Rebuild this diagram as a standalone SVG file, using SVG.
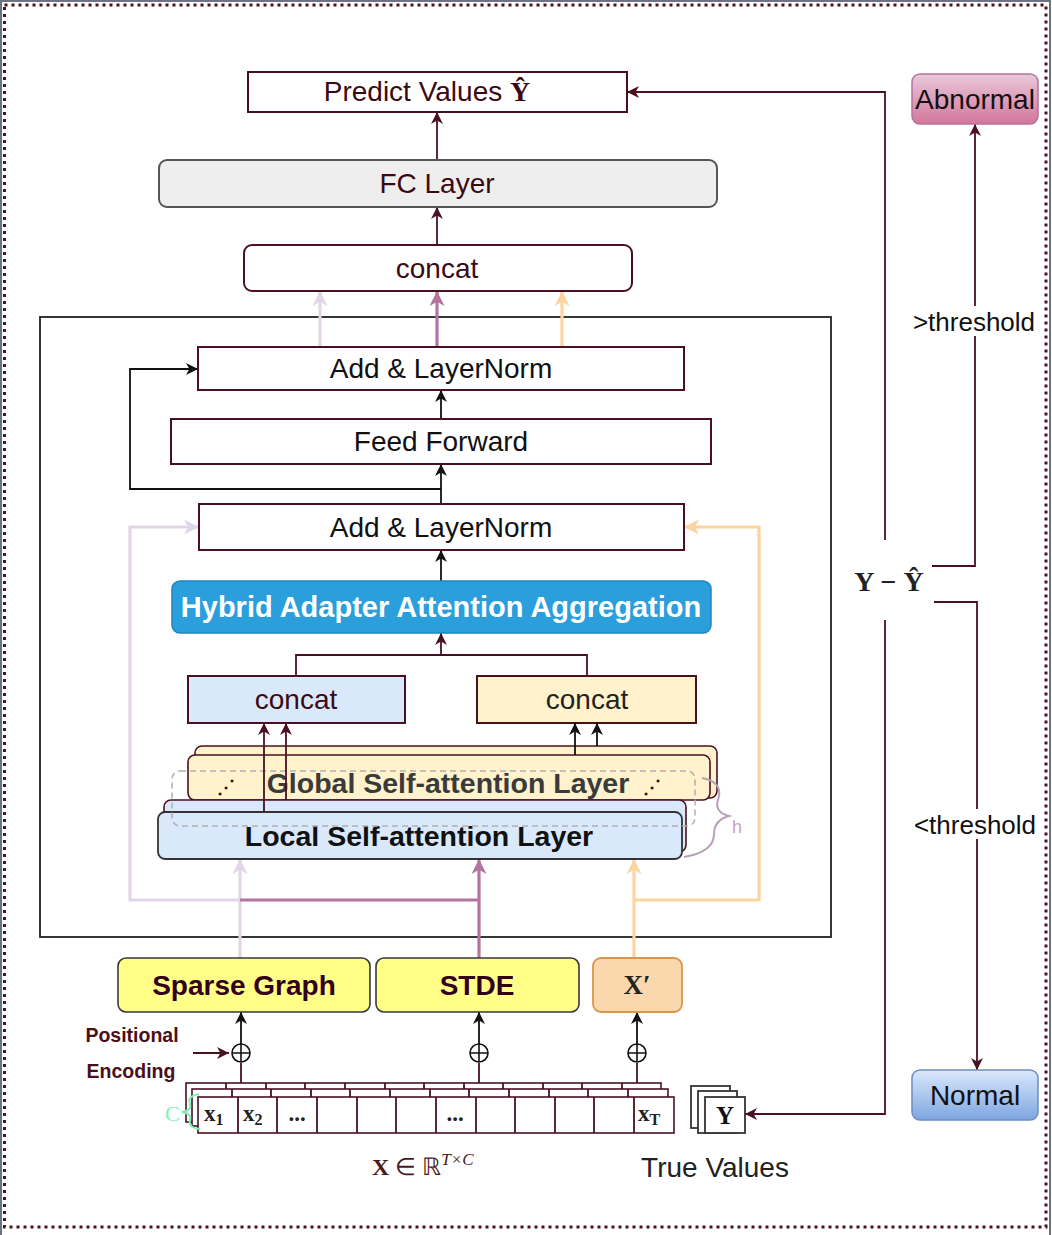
<svg xmlns="http://www.w3.org/2000/svg" width="1052" height="1235" viewBox="0 0 1052 1235">
<style>
.sans{font-family:"Liberation Sans",Arial,sans-serif}
.serif{font-family:"Liberation Serif","Times New Roman",serif}
.t28{font-size:28px;text-anchor:middle}
.box{stroke:#4a1020;stroke-width:2;fill:#fff}
.dr{stroke:#4a1020;stroke-width:1.8;fill:none}
.bk{stroke:#111;stroke-width:1.8;fill:none}
.pu{stroke:#e1d5e7;stroke-width:3.2;fill:none}
.pk{stroke:#b5739d;stroke-width:3.2;fill:none}
.or{stroke:#fdd3a0;stroke-width:3.2;fill:none}
.cell{stroke:#4a1020;stroke-width:1.6;fill:#fff}
</style>
<defs>
<marker id="aDR" viewBox="0 0 14 14" refX="14" refY="7" markerWidth="13" markerHeight="12" markerUnits="userSpaceOnUse" orient="auto"><path d="M0,0 L14,7 L0,14 L4,7 z" fill="#4a1020"/></marker>
<marker id="aBK" viewBox="0 0 14 14" refX="14" refY="7" markerWidth="13" markerHeight="12" markerUnits="userSpaceOnUse" orient="auto"><path d="M0,0 L14,7 L0,14 L4,7 z" fill="#111"/></marker>
<marker id="aPU" viewBox="0 0 14 14" refX="14" refY="7" markerWidth="16" markerHeight="15" markerUnits="userSpaceOnUse" orient="auto"><path d="M0,0 L14,7 L0,14 L4,7 z" fill="#e1d5e7"/></marker>
<marker id="aPK" viewBox="0 0 14 14" refX="14" refY="7" markerWidth="16" markerHeight="15" markerUnits="userSpaceOnUse" orient="auto"><path d="M0,0 L14,7 L0,14 L4,7 z" fill="#b5739d"/></marker>
<marker id="aOR" viewBox="0 0 14 14" refX="14" refY="7" markerWidth="16" markerHeight="15" markerUnits="userSpaceOnUse" orient="auto"><path d="M0,0 L14,7 L0,14 L4,7 z" fill="#fdd3a0"/></marker>
<linearGradient id="gAb" x1="0" y1="0" x2="0" y2="1"><stop offset="0" stop-color="#e8c8da"/><stop offset="1" stop-color="#d4769c"/></linearGradient>
<linearGradient id="gNo" x1="0" y1="0" x2="0" y2="1"><stop offset="0" stop-color="#dae8fc"/><stop offset="1" stop-color="#7ea6e0"/></linearGradient>
</defs>
<rect width="1052" height="1235" fill="#fff"/>
<path d="M1,1235 V1 H1050 V1235" fill="none" stroke="#6b7380" stroke-width="2"/>
<rect x="4.5" y="5" width="1041.5" height="1222" fill="none" stroke="#4a1020" stroke-width="3" stroke-dasharray="3 4"/>

<g id="container"><rect x="40" y="317" width="791" height="620" fill="none" stroke="#222" stroke-width="1.8"/></g>

<g id="connectors">
  <line class="dr" x1="437" y1="245" x2="437" y2="207" marker-end="url(#aDR)"/>
  <line class="dr" x1="437" y1="160" x2="437" y2="112" marker-end="url(#aDR)"/>
  <path class="dr" d="M885,540 V92 H627" marker-end="url(#aDR)"/>
  <path class="dr" d="M885,620 V1114 H745" marker-end="url(#aDR)"/>
  <path class="dr" d="M932,566 H975 V124" marker-end="url(#aDR)"/>
  <path class="dr" d="M934,602 H977 V1070" marker-end="url(#aDR)"/>
  <line class="pu" x1="320" y1="347" x2="320" y2="291" marker-end="url(#aPU)"/>
  <line class="pk" x1="437" y1="347" x2="437" y2="291" marker-end="url(#aPK)"/>
  <line class="or" x1="562" y1="347" x2="562" y2="291" marker-end="url(#aOR)"/>
  <line class="bk" x1="441" y1="419" x2="441" y2="390" marker-end="url(#aBK)"/>
  <line class="bk" x1="441" y1="504" x2="441" y2="464" marker-end="url(#aBK)"/>
  <path class="bk" d="M441,489 H130 V369 H198" marker-end="url(#aBK)"/>
  <line class="bk" x1="441" y1="581" x2="441" y2="550" marker-end="url(#aBK)"/>
  <path class="dr" d="M296,676 V655 H587 V676"/>
  <line class="dr" x1="441" y1="655" x2="441" y2="633" marker-end="url(#aDR)"/>
  <path class="pu" d="M240,958 V859" marker-end="url(#aPU)"/>
  <path class="pu" d="M240,900 H130 V527 H199" marker-end="url(#aPU)"/>
  <path class="pk" d="M479,900 H240"/>
  <path class="pk" d="M479,958 V859" marker-end="url(#aPK)"/>
  <path class="or" d="M634,958 V859" marker-end="url(#aOR)"/>
  <path class="or" d="M634,900 H759 V527 H684" marker-end="url(#aOR)"/>
  <line class="dr" x1="193" y1="1053" x2="229" y2="1053" marker-end="url(#aDR)"/>
  <line class="dr" x1="241" y1="1083" x2="241" y2="1063"/>
  <line class="bk" x1="241" y1="1044" x2="241" y2="1012" marker-end="url(#aBK)"/>
  <line class="dr" x1="479" y1="1083" x2="479" y2="1063"/>
  <line class="bk" x1="479" y1="1044" x2="479" y2="1012" marker-end="url(#aBK)"/>
  <line class="dr" x1="637" y1="1083" x2="637" y2="1063"/>
  <line class="bk" x1="637" y1="1044" x2="637" y2="1012" marker-end="url(#aBK)"/>
</g>

<g id="predict"><rect class="box" x="248" y="72" width="379" height="40" stroke-width="2.5"/>
<text class="sans" x="427" y="101" font-size="28" text-anchor="middle" fill="#3a0a14">Predict Values <tspan class="serif" font-weight="bold">Ŷ</tspan></text></g>
<g id="fc"><rect x="159" y="160" width="558" height="47" rx="8" fill="#eeeeee" stroke="#555" stroke-width="2"/>
<text class="sans t28" x="437" y="193" fill="#3a0a14">FC Layer</text></g>
<g id="concat-top"><rect class="box" x="244" y="245" width="388" height="46" rx="8"/>
<text class="sans t28" x="437" y="278" fill="#3a0a14">concat</text></g>

<g id="addln1"><rect class="box" x="198" y="347" width="486" height="43" stroke-width="1.6"/>
<text class="sans t28" x="441" y="378" fill="#111">Add &amp; LayerNorm</text></g>
<g id="ff"><rect class="box" x="171" y="419" width="540" height="45" stroke-width="1.6"/>
<text class="sans t28" x="441" y="451" fill="#111">Feed Forward</text></g>
<g id="addln2"><rect class="box" x="199" y="504" width="485" height="46" stroke-width="1.6"/>
<text class="sans t28" x="441" y="537" fill="#111">Add &amp; LayerNorm</text></g>
<g id="hybrid"><rect x="172" y="581" width="539" height="52" rx="8" fill="#2a9fdc" stroke="#1c86c4" stroke-width="1.5"/>
<text class="sans" x="441" y="617" font-size="29" text-anchor="middle" font-weight="bold" fill="#fff">Hybrid Adapter Attention Aggregation</text></g>
<g id="concat-left"><rect x="188" y="676" width="217" height="47" fill="#dae8fc" stroke="#4a1020" stroke-width="2"/>
<text class="sans t28" x="296" y="709" fill="#3a0a14">concat</text></g>
<g id="concat-right"><rect x="477" y="676" width="219" height="47" fill="#fff2cc" stroke="#4a1020" stroke-width="2"/>
<text class="sans t28" x="587" y="709" fill="#222">concat</text></g>

<g id="global">
<rect x="195" y="746" width="522" height="52" rx="7" fill="#fff2cc" stroke="#4a1020" stroke-width="1.6"/>
<rect x="188" y="755" width="522" height="45" rx="7" fill="#fff2cc" stroke="#4a1020" stroke-width="1.6"/>
<text class="sans" x="448" y="793" font-size="28.5" text-anchor="middle" font-weight="bold" fill="#3a3a3a">Global Self-attention Layer</text>
<text class="sans" x="226" y="793" font-size="18" font-weight="bold" text-anchor="middle" fill="#111">⋰</text>
<text class="sans" x="652" y="793" font-size="18" font-weight="bold" text-anchor="middle" fill="#111">⋰</text>
</g>
<g id="local">
<rect x="164" y="800" width="522" height="52" rx="7" fill="#dae8fc" stroke="#4a1020" stroke-width="1.6"/>
<rect x="158" y="812" width="524" height="47" rx="7" fill="#dae8fc" stroke="#333" stroke-width="1.8"/>
<text class="sans" x="419" y="846" font-size="28.5" text-anchor="middle" font-weight="bold" fill="#111">Local Self-attention Layer</text>
</g>
<g id="heads">
<rect x="172" y="771" width="523" height="55" rx="8" fill="none" stroke="#b0b0b0" stroke-width="1.5" stroke-dasharray="6 4"/>
<path d="M702,778 Q724,782 718,800 Q714,812 729,816 Q714,820 714,834 Q714,852 684,857" fill="none" stroke="#b8a0b8" stroke-width="2"/>
<text class="sans" x="732" y="833" font-size="18" fill="#d0a0c4">h</text>
</g>
<g id="attn-arrows">
  <line class="dr" x1="264" y1="812" x2="264" y2="723" marker-end="url(#aDR)"/>
  <line class="dr" x1="286" y1="800" x2="286" y2="723" marker-end="url(#aDR)"/>
  <line class="bk" x1="575" y1="755" x2="575" y2="723" marker-end="url(#aBK)"/>
  <line class="bk" x1="597" y1="746" x2="597" y2="723" marker-end="url(#aBK)"/>
</g>

<g id="sparse"><rect x="118" y="958" width="252" height="54" rx="8" fill="#ffff88" stroke="#36393d" stroke-width="1.6"/>
<text class="sans t28" x="244" y="995" font-weight="bold" fill="#33001a">Sparse Graph</text></g>
<g id="stde"><rect x="376" y="958" width="203" height="54" rx="8" fill="#ffff88" stroke="#36393d" stroke-width="1.6"/>
<text class="sans t28" x="477" y="995" font-weight="bold" fill="#33001a">STDE</text></g>
<g id="xprime"><rect x="593" y="958" width="89" height="54" rx="8" fill="#fad7ac" stroke="#d9964a" stroke-width="1.8"/>
<text class="serif" x="637" y="994" font-size="27" font-weight="bold" text-anchor="middle" fill="#222">X′</text></g>

<g id="oplus" fill="none" stroke="#111" stroke-width="1.6">
<circle cx="241" cy="1053" r="9"/><path d="M232,1053 H250 M241,1044 V1062"/>
<circle cx="479" cy="1053" r="9"/><path d="M470,1053 H488 M479,1044 V1062"/>
<circle cx="637" cy="1053" r="9"/><path d="M628,1053 H646 M637,1044 V1062"/>
</g>
<g id="pos-label" class="sans" font-size="19.5" font-weight="bold" fill="#4a0f1a" text-anchor="middle">
<text x="132" y="1042">Positional</text><text x="131" y="1078">Encoding</text></g>

<g id="matrix">
<rect class="cell" x="186" y="1083" width="475" height="39"/>
<path class="dr" stroke-width="1.4" d="M226,1083 V1089 M266,1083 V1089 M305,1083 V1089 M345,1083 V1089 M385,1083 V1089 M424,1083 V1089 M464,1083 V1089 M503,1083 V1089 M543,1083 V1089 M582,1083 V1089 M622,1083 V1089"/>
<rect class="cell" x="192" y="1089" width="476" height="37"/>
<path class="dr" stroke-width="1.4" d="M232,1089 V1097 M271,1089 V1097 M311,1089 V1097 M350,1089 V1097 M390,1089 V1097 M430,1089 V1097 M469,1089 V1097 M509,1089 V1097 M549,1089 V1097 M588,1089 V1097 M628,1089 V1097"/>
<rect class="cell" x="198" y="1097" width="476" height="36"/>
<path class="dr" stroke-width="1.6" d="M238,1097 V1133 M277,1097 V1133 M317,1097 V1133 M357,1097 V1133 M396,1097 V1133 M436,1097 V1133 M476,1097 V1133 M515,1097 V1133 M555,1097 V1133 M594,1097 V1133 M634,1097 V1133"/>
<g class="serif" font-weight="bold" fill="#222" font-size="23">
<text x="204" y="1121">x<tspan font-size="16" dy="4">1</tspan></text>
<text x="243" y="1121">x<tspan font-size="16" dy="4">2</tspan></text>
<text x="297" y="1121" text-anchor="middle">...</text>
<text x="455" y="1121" text-anchor="middle">...</text>
<text x="638" y="1121">x<tspan font-size="16" dy="4">T</tspan></text>
</g>
<text class="serif" x="165" y="1121" font-size="22" fill="#7ff0b4">C</text>
<path d="M199,1094 Q187,1096 190,1104 Q192,1110 182,1112 Q192,1114 190,1120 Q188,1128 200,1129" fill="none" stroke="#7ff0b4" stroke-width="2"/>
</g>
<text id="x-label" class="serif" x="372" y="1175" font-size="24" fill="#4a1a1a"><tspan font-weight="bold">X</tspan> ∈ ℝ<tspan font-size="17" dy="-10" font-style="italic">T×C</tspan></text>

<g id="truey">
<rect x="691" y="1086" width="39" height="42" fill="#fff" stroke="#333" stroke-width="1.8"/>
<rect x="698" y="1091" width="39" height="42" fill="#fff" stroke="#333" stroke-width="1.8"/>
<rect x="705" y="1097" width="40" height="36" fill="#fff" stroke="#333" stroke-width="1.8"/>
<text class="serif" x="725" y="1124" font-size="25" font-weight="bold" text-anchor="middle" fill="#111">Y</text>
</g>
<text id="true-values" class="sans t28" x="715" y="1177" fill="#222">True Values</text>

<text id="diff" class="serif" x="889" y="591" font-size="28" font-weight="bold" text-anchor="middle" fill="#222">Y − Ŷ</text>

<g id="abnormal"><rect x="912" y="74" width="126" height="50" rx="8" fill="url(#gAb)" stroke="#b5739d" stroke-width="1.5"/>
<text class="sans t28" x="975" y="109" fill="#111">Abnormal</text></g>
<g id="normal"><rect x="912" y="1070" width="126" height="50" rx="8" fill="url(#gNo)" stroke="#6c8ebf" stroke-width="1.5"/>
<text class="sans t28" x="975" y="1105" fill="#111">Normal</text></g>

<g id="thresholds" class="sans" font-size="26" text-anchor="middle" fill="#111">
<rect x="910" y="306" width="128" height="30" fill="#fff"/>
<text x="974" y="331">&gt;threshold</text>
<rect x="910" y="809" width="128" height="30" fill="#fff"/>
<text x="975" y="834">&lt;threshold</text>
</g>
</svg>
